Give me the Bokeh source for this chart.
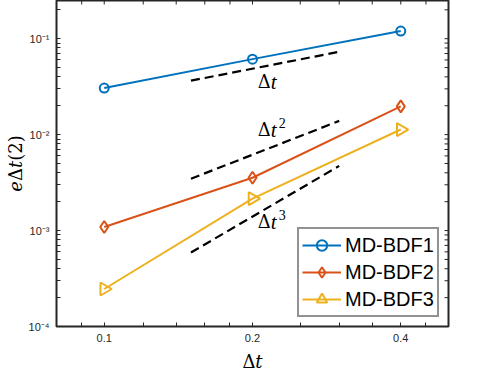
import math
from bokeh.plotting import figure
from bokeh.models import FixedTicker, Label, Legend, LegendItem
from bokeh.embed import file_html
from bokeh.resources import INLINE

# ---------------- data ----------------
dt = [0.1, 0.2, 0.4]
err_bdf1 = [0.0306, 0.0612, 0.120]
err_bdf2 = [0.00109, 0.00355, 0.0197]
err_bdf3 = [0.000246, 0.00215, 0.0113]
series_names = ["MD-BDF1", "MD-BDF2", "MD-BDF3"]
series_colors = ["#0072BD", "#D95319", "#EDB120"]

ref_dt = [0.15, 0.3]
ref_order1 = [0.0365, 0.073]
ref_order2 = [0.00347, 0.0139]
ref_order3 = [0.00059, 0.00472]
ref_powers = ["", "2", "3"]
ref_label_x = [0.205, 0.205, 0.205]
ref_label_y = [0.0299, 0.00953, 0.00104]

x_lim = (0.08, 0.5)
y_lim = (1e-4, 0.25)
x_major = [0.1, 0.2, 0.4]
x_major_labels = ["0.1", "0.2", "0.4"]
x_minor = [0.09, 0.12, 0.14, 0.16, 0.18, 0.25, 0.3, 0.35, 0.45]
y_major = [1e-4, 1e-3, 1e-2, 1e-1]
y_major_labels = ["10\u207b\u2074", "10\u207b\u00b3", "10\u207b\u00b2", "10\u207b\u00b9"]
y_minor = [m * 10.0 ** e for e in (-4, -3, -2, -1) for m in range(2, 10) if m * 10.0 ** e <= 0.25]
x_title = "\u0394\U0001D461"
y_title = "\U0001D452\u0394\U0001D461(2)"

AX = "#262626"

p = figure(x_axis_type="log", y_axis_type="log",
           x_range=x_lim, y_range=y_lim,
           frame_width=392, frame_height=326,
           min_border_left=56, min_border_right=46,
           min_border_top=0, min_border_bottom=48,
           output_backend="svg", toolbar_location=None)
p.grid.visible = False
p.background_fill_color = "white"
p.border_fill_color = "white"
p.outline_line_color = AX
p.outline_line_width = 2

xt = FixedTicker(ticks=x_major, minor_ticks=x_minor)
yt = FixedTicker(ticks=y_major, minor_ticks=y_minor)


def style_axis(ax):
    ax.axis_line_color = None
    ax.major_tick_in = 4
    ax.major_tick_out = 0
    ax.minor_tick_in = 4
    ax.minor_tick_out = 0
    ax.major_tick_line_color = AX
    ax.minor_tick_line_color = AX
    ax.major_tick_line_width = 1
    ax.minor_tick_line_width = 1
    ax.major_label_text_font = "Liberation Sans"
    ax.major_label_text_color = AX
    ax.axis_label_text_font = "DejaVu Serif"
    ax.axis_label_text_font_style = "normal"
    ax.axis_label_text_color = "black"
    ax.axis_label_text_font_size = "18px"


xa = p.xaxis[0]
xa.ticker = xt
xa.major_label_overrides = {v: s for v, s in zip(x_major, x_major_labels)}
style_axis(xa)
xa.major_label_text_font_size = "11px"
xa.major_label_standoff = 7
xa.axis_label = x_title
xa.axis_label_standoff = 6

ya = p.yaxis[0]
ya.ticker = yt
ya.major_label_overrides = {v: s for v, s in zip(y_major, y_major_labels)}
style_axis(ya)
ya.major_label_text_font_size = "11px"
ya.major_label_standoff = 7
ya.axis_label = y_title
ya.axis_label_standoff = 0

# mirrored ticks on the top and right edges (half of each dash is clipped by the frame)
x_all = x_major + x_minor
y_all = y_major + y_minor
p.scatter(x_all, [y_lim[1]] * len(x_all), marker="dash", size=8, angle=math.pi / 2,
          line_color=AX, line_width=1)
p.scatter([x_lim[1]] * len(y_all), y_all, marker="dash", size=8,
          line_color=AX, line_width=1)

# reference slopes
for ys in (ref_order1, ref_order2, ref_order3):
    p.line(ref_dt, ys, line_color="black", line_width=2.2, line_dash="9 5")

markers = [("circle", 9, 0.0), ("diamond", 12, 0.0), ("triangle", 13, -math.pi / 2)]
items = []
for ys, name, col, (mk, sz, ang) in zip((err_bdf1, err_bdf2, err_bdf3), series_names,
                                         series_colors, markers):
    lr = p.line(dt, ys, line_color=col, line_width=2)
    sr = p.scatter(dt, ys, marker=mk, size=sz, angle=ang, line_color=col,
                   line_width=2, fill_color=None)
    items.append(LegendItem(label=name, renderers=[lr, sr]))

legend = Legend(items=items, location=(241, 9), margin=0, padding=3, spacing=1,
                glyph_width=39, glyph_height=26, label_height=26, label_standoff=4,
                label_text_font="Liberation Sans", label_text_font_size="20px",
                label_text_color="black", border_line_color=AX, border_line_width=2,
                background_fill_color="white", background_fill_alpha=1)
p.add_layout(legend)

# slope annotations: Δt, Δt², Δt³
for lx, ly, pw in zip(ref_label_x, ref_label_y, ref_powers):
    p.add_layout(Label(x=lx, y=ly, y_offset=7, text="\u0394", text_font="DejaVu Serif",
                       text_font_size="18px", text_baseline="alphabetic", text_color="black"))
    p.add_layout(Label(x=lx, y=ly, x_offset=13, y_offset=7, text="t",
                       text_font="Liberation Serif", text_font_style="italic",
                       text_font_size="21px", text_baseline="alphabetic", text_color="black"))
    if pw:
        p.add_layout(Label(x=lx, y=ly, x_offset=21, y_offset=14, text=pw,
                           text_font="Liberation Serif", text_font_size="14px",
                           text_baseline="alphabetic", text_color="black"))

open("out.html", "w").write(file_html(p, INLINE))
